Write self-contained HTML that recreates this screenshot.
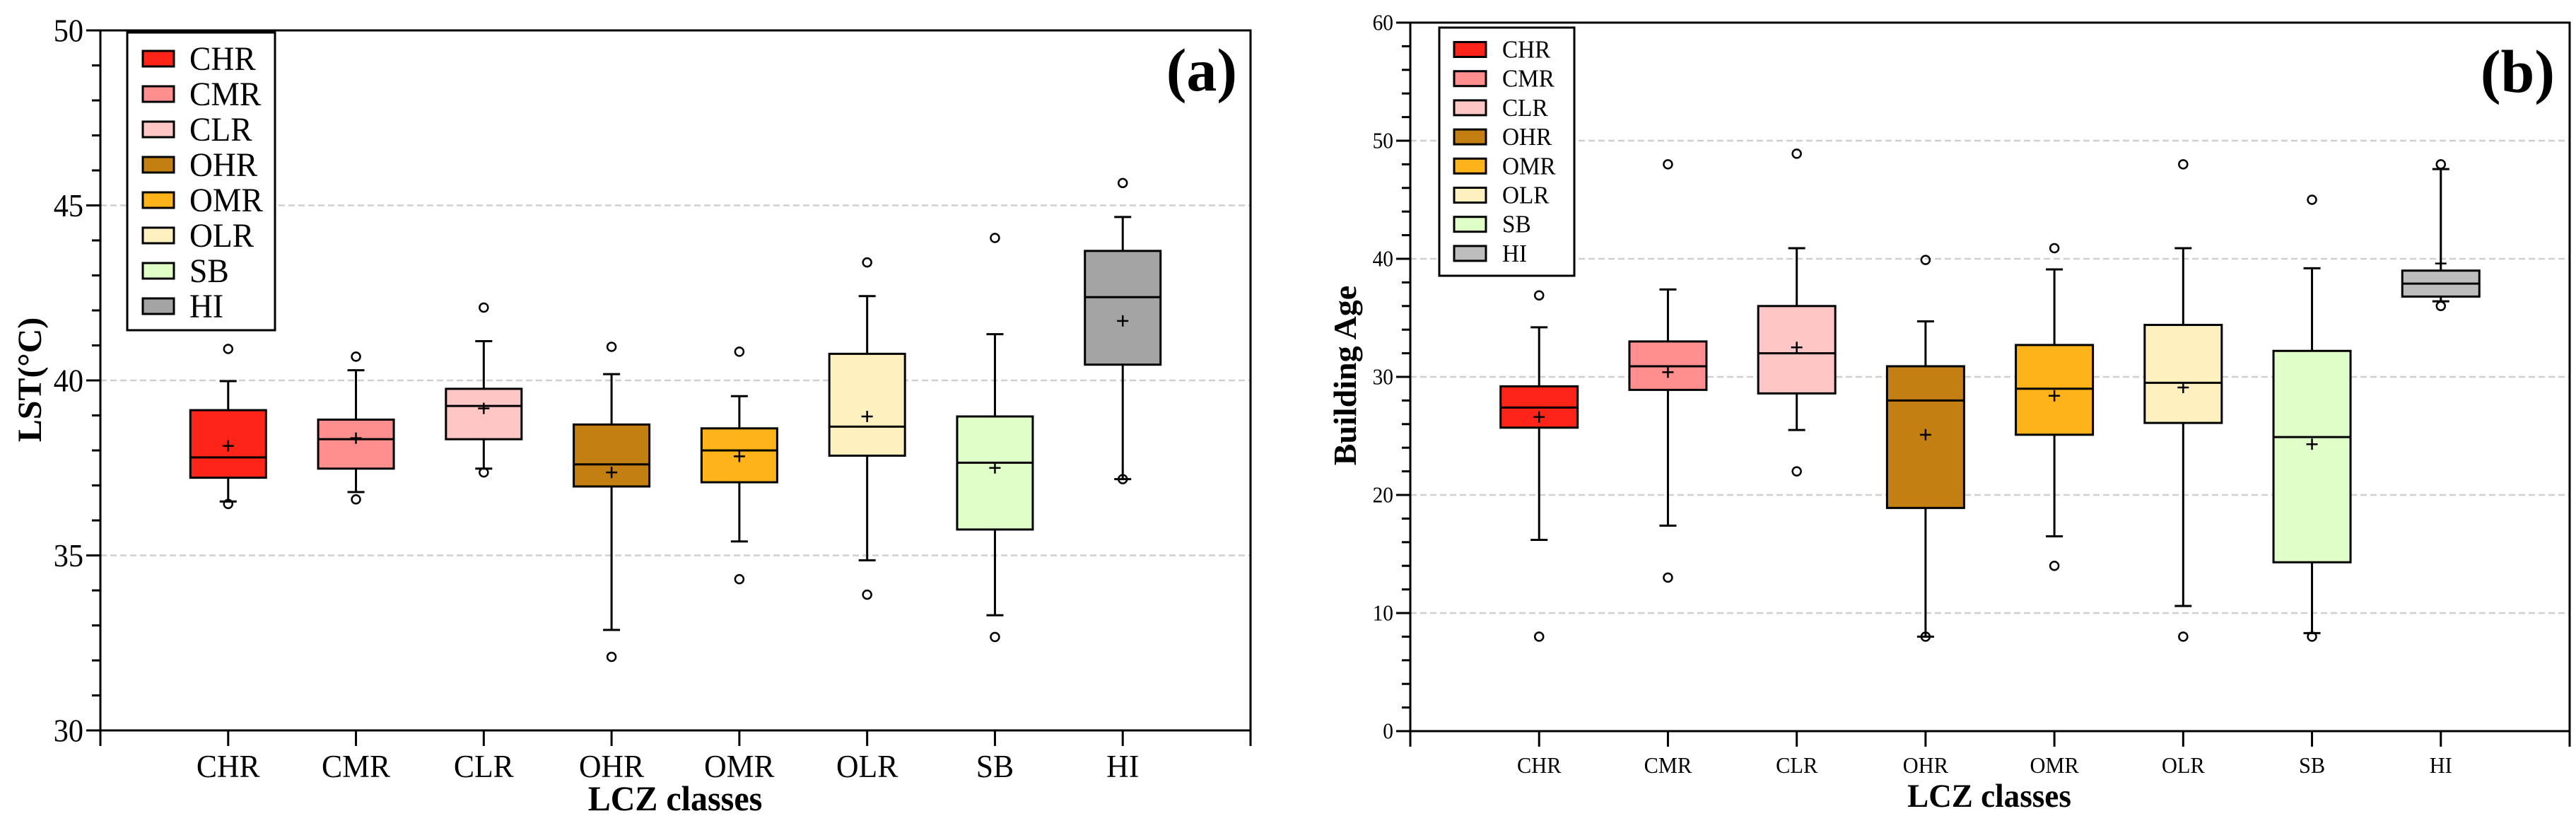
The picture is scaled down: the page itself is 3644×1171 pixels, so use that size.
<!DOCTYPE html>
<html><head><meta charset="utf-8"><style>
html,body{margin:0;padding:0;background:#fff;}
svg{display:block;}
text{font-family:"Liberation Serif",serif;}
</style></head><body>
<svg id="chart" width="3644" height="1171" viewBox="0 0 3644 1171" xmlns="http://www.w3.org/2000/svg"></svg>
<script>
const categories = ["CHR","CMR","CLR","OHR","OMR","OLR","SB","HI"];
const colorsA = ["#ff2418","#ff8f8f","#ffc6c6","#c47f12","#ffb31a","#fff0bf","#e0ffc8","#a4a4a4"];
const colorsB = ["#ff2418","#ff8f8f","#ffc6c6","#c47f12","#ffb31a","#fff0bf","#e0ffc8","#bdbdbd"];
// Panel (a) LST
const lstQ1 = [37.22,37.48,38.32,36.97,37.09,37.85,35.74,40.45];
const lstMed = [37.8,38.32,39.27,37.6,38.0,38.68,37.65,42.38];
const lstQ3 = [39.15,38.88,39.76,38.74,38.63,40.76,38.97,43.7];
const lstWLo = [36.54,36.81,37.48,32.87,35.4,34.86,33.29,37.18];
const lstWHi = [39.98,40.29,41.12,40.18,39.55,42.41,41.32,44.67];
const lstMean = [38.13,38.35,39.2,37.37,37.83,38.97,37.5,41.7];
const lstOutHi = [40.9,40.68,42.08,40.96,40.82,43.37,44.07,45.64];
const lstOutLo = [36.47,36.6,37.37,32.1,34.32,33.88,32.67,37.18];
const lstTicks = [30,35,40,45,50];
// Panel (b) Building age
const ageQ1 = [25.7,28.9,28.6,18.9,25.1,26.1,14.3,36.8];
const ageMed = [27.4,30.9,32.0,28.0,29.0,29.5,24.9,37.9];
const ageQ3 = [29.2,33.0,36.0,30.9,32.7,34.4,32.2,39.0];
const ageWLo = [16.2,17.4,25.5,8.0,16.5,10.6,8.3,36.4];
const ageWHi = [34.2,37.4,40.9,34.7,39.1,40.9,39.2,47.6];
const ageMean = [26.6,30.4,32.5,25.1,28.4,29.1,24.3,39.6];
const ageOutHi = [36.9,48.0,48.9,39.9,40.9,48.0,45.0,48.0];
const ageOutLo = [8.0,13.0,22.0,8.0,14.0,8.0,8.0,36.0];
const ageTicks = [0,10,20,30,40,50,60];

const NS="http://www.w3.org/2000/svg";
const svg=document.getElementById('chart');
function el(tag,attrs,parent){const e=document.createElementNS(NS,tag);for(const k in attrs)e.setAttribute(k,attrs[k]);(parent||svg).appendChild(e);return e;}
function txt(x,y,s,size,anchor,weight,sx,parent){
  const t=el('text',{transform:`translate(${x},${y}) scale(${sx},1)`,'font-family':'Liberation Serif, serif','font-size':size,'text-anchor':anchor,'font-weight':weight,fill:'#000'},parent);
  t.textContent=s;return t;}

function panel(cfg){
  const g=el('g',{});
  
  
  const {L,R,T,B,ymin,ymax}=cfg;
  const Y=v=>B-(v-ymin)/(ymax-ymin)*(B-T);
  const step=(R-L)/9;
  const X=i=>L+(i+1)*step;
  cfg.ticks.forEach(v=>{ if(v>ymin&&v<ymax){const gl=el('line',{x1:L,x2:R,y1:Y(v),y2:Y(v),stroke:'#cfcfcf','stroke-width':2.5,'stroke-dasharray':'9,5'},g);
    
    }});
  for(let v=ymin;v<=ymax+1e-9;v+=cfg.minor){const major=cfg.ticks.some(t=>Math.abs(t-v)<1e-6);
    el('line',{x1:L-(major?20:12),x2:L,y1:Y(v),y2:Y(v),stroke:'#000','stroke-width':3},g);}
  cfg.ticks.forEach(v=>{const t=txt(L-24,Y(v)+cfg.tickCap/2,String(v),cfg.tickFont,'end','normal',0.92,g);
    
    });
  const bw=cfg.bw;
  categories.forEach((c,i)=>{
    const bg=el('g',{},g);
    
    
    const x=X(i);
    el('line',{x1:x,x2:x,y1:Y(cfg.whi[i]),y2:Y(cfg.q3[i]),stroke:'#000','stroke-width':3},bg);
    el('line',{x1:x,x2:x,y1:Y(cfg.q1[i]),y2:Y(cfg.wlo[i]),stroke:'#000','stroke-width':3},bg);
    el('line',{x1:x-12,x2:x+12,y1:Y(cfg.whi[i]),y2:Y(cfg.whi[i]),stroke:'#000','stroke-width':3},bg);
    el('line',{x1:x-12,x2:x+12,y1:Y(cfg.wlo[i]),y2:Y(cfg.wlo[i]),stroke:'#000','stroke-width':3},bg);
    el('rect',{x:x-bw/2,y:Y(cfg.q3[i]),width:bw,height:Y(cfg.q1[i])-Y(cfg.q3[i]),fill:cfg.colors[i],stroke:'#000','stroke-width':3},bg);
    el('line',{x1:x-bw/2,x2:x+bw/2,y1:Y(cfg.med[i]),y2:Y(cfg.med[i]),stroke:'#000','stroke-width':3},bg);
    const my=Y(cfg.mean[i]);
    el('line',{x1:x-8,x2:x+8,y1:my,y2:my,stroke:'#000','stroke-width':2.5},bg);
    el('line',{x1:x,x2:x,y1:my-8,y2:my+8,stroke:'#000','stroke-width':2.5},bg);
    [cfg.ohi[i],cfg.olo[i]].forEach(v=>el('circle',{cx:x,cy:Y(v),r:6,fill:'none',stroke:'#000','stroke-width':2.5},bg));
    const xl=txt(x,cfg.xlabY,c,cfg.tickFont,'middle','normal',0.95,g);
    
    
  });
  el('rect',{x:L,y:T,width:R-L,height:B-T,fill:'none',stroke:'#000','stroke-width':3},g);
  for(let i=0;i<=9;i++) el('line',{x1:L+i*step,x2:L+i*step,y1:B,y2:B+22,stroke:'#000','stroke-width':3},g);
  const lg=el('g',{},g);
  
  
  const Lg=cfg.leg;
  el('rect',{x:Lg.x,y:Lg.y,width:Lg.w,height:Lg.h,fill:'#fff',stroke:'#000','stroke-width':3},lg);
  categories.forEach((c,i)=>{
    const cy=Lg.y0+i*Lg.dy;
    const e=el('g',{},lg);
    
    
    el('rect',{x:Lg.sx,y:cy-Lg.sh/2,width:Lg.sw,height:Lg.sh,fill:cfg.colors[i],stroke:'#000','stroke-width':3},e);
    txt(Lg.tx,cy+Lg.cap/2,c,Lg.font,'start','normal',0.95,e);
  });
  const xt=txt(cfg.xtitle.x,cfg.xtitle.y,'LCZ classes',cfg.xtitle.size,'middle','bold',0.96,g);
  
  
  const yt=el('text',{transform:`translate(${cfg.ytitle.x},${cfg.ytitle.y}) rotate(-90)`,'font-family':'Liberation Serif, serif','font-size':cfg.ytitle.size,'text-anchor':'middle','font-weight':'bold'},g);
  yt.textContent=cfg.ytitle.s;
  
  
  const pl=txt(cfg.plabel.x,cfg.plabel.y,cfg.plabel.s,86,'end','bold',1,g);
  
  
}

panel({name:'panel-a-lst',L:142,R:1769,T:43,B:1033,ymin:30,ymax:50,ticks:lstTicks,minor:1,
  q1:lstQ1,med:lstMed,q3:lstQ3,wlo:lstWLo,whi:lstWHi,mean:lstMean,ohi:lstOutHi,olo:lstOutLo,
  colors:colorsA,bw:107,tickFont:46,tickCap:31,xlabY:1099,
  leg:{x:180,y:46,w:209,h:421,y0:83,dy:50,sx:202,sw:44,sh:22,tx:268,font:48,cap:32},
  xtitle:{x:955,y:1146,size:50},ytitle:{x:58,y:537,s:'LST(°C)',size:48},
  plabel:{x:1750,y:128,s:'(a)'}});
panel({name:'panel-b-building-age',L:1995,R:3635,T:32,B:1034,ymin:0,ymax:60,ticks:ageTicks,minor:2,
  q1:ageQ1,med:ageMed,q3:ageQ3,wlo:ageWLo,whi:ageWHi,mean:ageMean,ohi:ageOutHi,olo:ageOutLo,
  colors:colorsB,bw:109,tickFont:32,tickCap:21,xlabY:1093,
  leg:{x:2036,y:39,w:191,h:351,y0:70,dy:41.2,sx:2057,sw:45,sh:21,tx:2125,font:35,cap:23},
  xtitle:{x:2814,y:1141,size:47},ytitle:{x:1918,y:531,s:'Building Age',size:46},
  plabel:{x:3614,y:130,s:'(b)'}});
</script>
</body></html>
